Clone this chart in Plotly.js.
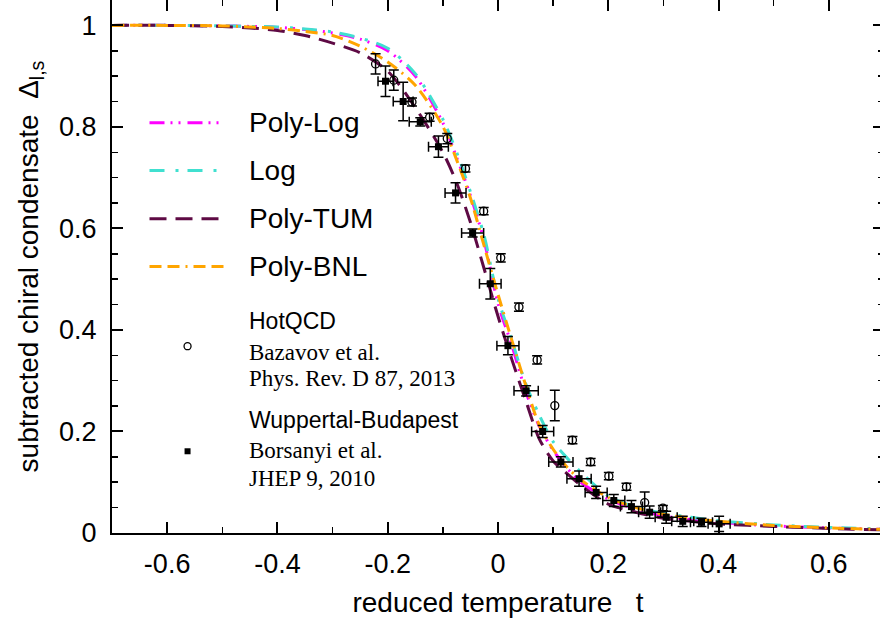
<!DOCTYPE html>
<html>
<head>
<meta charset="utf-8">
<script src="https://cdn.plot.ly/plotly-3.0.1.min.js"></script>
<style>html,body{margin:0;padding:0;overflow:hidden;background:#fff;width:880px;height:622px;}</style>
</head>
<body>
<div id="chart"></div>
<script>
// ---- data ----
const curveT = [-0.7,-0.6,-0.5,-0.45,-0.4,-0.35,-0.3,-0.25,-0.2,-0.15,-0.1,-0.075,-0.05,-0.025,0,0.025,0.05,0.075,0.1,0.125,0.15,0.2,0.25,0.3,0.35,0.4,0.5,0.6,0.7];
const polyLog = [1.0,1.0,0.999,0.998,0.996,0.992,0.985,0.973,0.950,0.900,0.808,0.740,0.665,0.575,0.452,0.370,0.280,0.210,0.163,0.128,0.100,0.067,0.047,0.034,0.026,0.021,0.014,0.010,0.007];
const logC    = [1.0,1.0,0.999,0.998,0.997,0.993,0.987,0.975,0.955,0.905,0.815,0.750,0.672,0.585,0.462,0.380,0.295,0.232,0.180,0.148,0.120,0.073,0.051,0.039,0.031,0.024,0.016,0.011,0.008];
const polyTUM = [1.0,1.0,0.998,0.995,0.990,0.980,0.965,0.946,0.910,0.838,0.750,0.690,0.612,0.520,0.427,0.342,0.262,0.185,0.142,0.117,0.094,0.057,0.041,0.029,0.023,0.018,0.013,0.009,0.006];
const polyBNL = [1.0,1.0,0.999,0.997,0.994,0.988,0.980,0.959,0.928,0.882,0.801,0.735,0.660,0.565,0.470,0.380,0.292,0.212,0.165,0.130,0.105,0.070,0.050,0.037,0.029,0.023,0.015,0.010,0.007];

const hotT   = [-0.222,-0.189,-0.156,-0.124,-0.092,-0.059,-0.026,0.005,0.038,0.071,0.103,0.135,0.168,0.201,0.233,0.266,0.299];
const hotD   = [0.924,0.892,0.849,0.819,0.777,0.718,0.634,0.542,0.445,0.341,0.251,0.183,0.140,0.112,0.091,0.060,0.049];
const hotErr = [0.02,0.02,0.008,0.008,0.01,0.007,0.007,0.008,0.008,0.008,0.03,0.007,0.007,0.007,0.007,0.021,0.005];

const wbT    = [-0.204,-0.172,-0.141,-0.108,-0.077,-0.046,-0.014,0.018,0.051,0.081,0.114,0.147,0.178,0.210,0.242,0.275,0.305,0.335,0.369,0.401];
const wbD    = [0.890,0.850,0.810,0.761,0.670,0.591,0.491,0.369,0.280,0.200,0.140,0.107,0.080,0.064,0.052,0.041,0.031,0.023,0.021,0.018];
const wbErrY = [0.03,0.038,0.008,0.021,0.02,0.008,0.03,0.018,0.01,0.012,0.01,0.015,0.012,0.012,0.012,0.012,0.012,0.01,0.008,0.015];
const wbErrX = [0.0136,0.018,0.02,0.018,0.019,0.02,0.0196,0.02,0.022,0.02,0.022,0.022,0.02,0.02,0.02,0.02,0.02,0.02,0.02,0.02];

const xTickVals = [-0.6,-0.4,-0.2,0,0.2,0.4,0.6];
const xTickText = ["-0.6","-0.4","-0.2","0","0.2","0.4","0.6"];
const yTickVals = [0,0.2,0.4,0.6,0.8,1];
const yTickText = ["0","0.2","0.4","0.6","0.8","1"];

const seriesNames = ["Poly-Log","Log","Poly-TUM","Poly-BNL"];
const seriesData  = [polyLog, logC, polyTUM, polyBNL];
const refNames = ["HotQCD","Wuppertal-Budapest"];
const refCites = [["Bazavov et al.","Phys. Rev. D 87, 2013"],["Borsanyi et al.","JHEP 9, 2010"]];

// ---- styles ----
const colors = ["#ff00ff","#40e0d0","#5e0a44","#ffa500"];
const dashes = ["15px,6px,2px,6px,2px,7px","15px,11px,3px,9px","17px,9px","12px,6px,12px,6px,2px,6px"];
const SANS = "Liberation Sans, Arial, Helvetica, sans-serif";
const SERIF = "Liberation Serif, Times New Roman, serif";

const traces = [];
seriesData.forEach((d,i)=>{
  traces.push({x:curveT, y:d, mode:"lines", type:"scatter", name:seriesNames[i],
    line:{color:colors[i], width:3, dash:dashes[i], shape:"spline", smoothing:0.8},
    showlegend:false, hoverinfo:"skip"});
});
traces.push({x:hotT, y:hotD, mode:"markers", type:"scatter", name:refNames[0], showlegend:false,
  marker:{symbol:"circle-open", size:8, color:"#000", line:{width:1.3, color:"#000"}},
  error_y:{type:"data", array:hotErr, visible:true, color:"#000", thickness:1.5, width:5}});
traces.push({x:wbT, y:wbD, mode:"markers", type:"scatter", name:refNames[1], showlegend:false,
  marker:{symbol:"square", size:7, color:"#000"},
  error_y:{type:"data", array:wbErrY, visible:true, color:"#000", thickness:1.5, width:5},
  error_x:{type:"data", array:wbErrX, visible:true, color:"#000", thickness:1.5, width:5}});

// ---- custom legend (data coordinates) ----
const legX0 = -0.632, legX1 = -0.496, legTextX = -0.456;
const legY = [0.808, 0.714, 0.619, 0.525];
seriesNames.forEach((n,i)=>{
  traces.push({x:[legX0,legX1], y:[legY[i],legY[i]], mode:"lines", type:"scatter", showlegend:false, hoverinfo:"skip",
    line:{color:colors[i], width:3, dash:dashes[i]}});
});
const markX = -0.563;
traces.push({x:[markX], y:[0.368], mode:"markers", type:"scatter", showlegend:false, hoverinfo:"skip",
  marker:{symbol:"circle-open", size:7, color:"#000", line:{width:1.3,color:"#000"}}});
traces.push({x:[markX], y:[0.161], mode:"markers", type:"scatter", showlegend:false, hoverinfo:"skip",
  marker:{symbol:"square", size:6, color:"#000"}});

const annotations = [];
seriesNames.forEach((n,i)=>{
  annotations.push({x:legTextX, y:legY[i], xref:"x", yref:"y", text:n, showarrow:false,
    xanchor:"left", yanchor:"middle", font:{family:SANS, size:28, color:"#000"}});
});
const refY = [[0.417,0.356,0.304],[0.223,0.163,0.107]];
refNames.forEach((n,i)=>{
  annotations.push({x:legTextX, y:refY[i][0], xref:"x", yref:"y", text:n, showarrow:false,
    xanchor:"left", yanchor:"middle", font:{family:SANS, size:23, color:"#000"}});
  refCites[i].forEach((c,j)=>{
    annotations.push({x:legTextX, y:refY[i][j+1], xref:"x", yref:"y", text:c, showarrow:false,
      xanchor:"left", yanchor:"middle", font:{family:SERIF, size:23, color:"#000"}});
  });
});

const axisCommon = {
  showgrid:false, zeroline:false, showline:true, linecolor:"#000", linewidth:2,
  mirror:"allticks", ticks:"inside", ticklen:11, tickwidth:2, tickcolor:"#000",
  tickfont:{family:SANS, size:27, color:"#000"}
};

const layout = {
  width:884, height:622,
  margin:{l:112, r:0, t:0, b:89},
  paper_bgcolor:"#fff", plot_bgcolor:"#fff",
  showlegend:false,
  xaxis:Object.assign({}, axisCommon, {
    range:[-0.7,0.7], tickmode:"array", tickvals:xTickVals, ticktext:xTickText,
    minor:{ticks:"inside", ticklen:6, tickwidth:1.5, tickcolor:"#000", dtick:0.1, tick0:0, showgrid:false},
    ticklabelstandoff:6,
    title:{text:"reduced temperature\u00A0\u00A0\u00A0t", font:{family:SANS, size:28, color:"#000"}, standoff:14}
  }),
  yaxis:Object.assign({}, axisCommon, {
    range:[0,1.05], tickmode:"array", tickvals:yTickVals, ticktext:yTickText,
    minor:{ticks:"inside", ticklen:6, tickwidth:1.5, tickcolor:"#000", dtick:0.05, tick0:0, showgrid:false},
    ticklabelstandoff:8,
    title:{text:"subtracted chiral condensate\u00A0\u00A0Δ<sub>l,s</sub>", font:{family:SANS, size:28, color:"#000"}, standoff:12}
  }),
  annotations:annotations
};

Plotly.newPlot("chart", traces, layout, {displayModeBar:false, staticPlot:true});
</script>
</body>
</html>
